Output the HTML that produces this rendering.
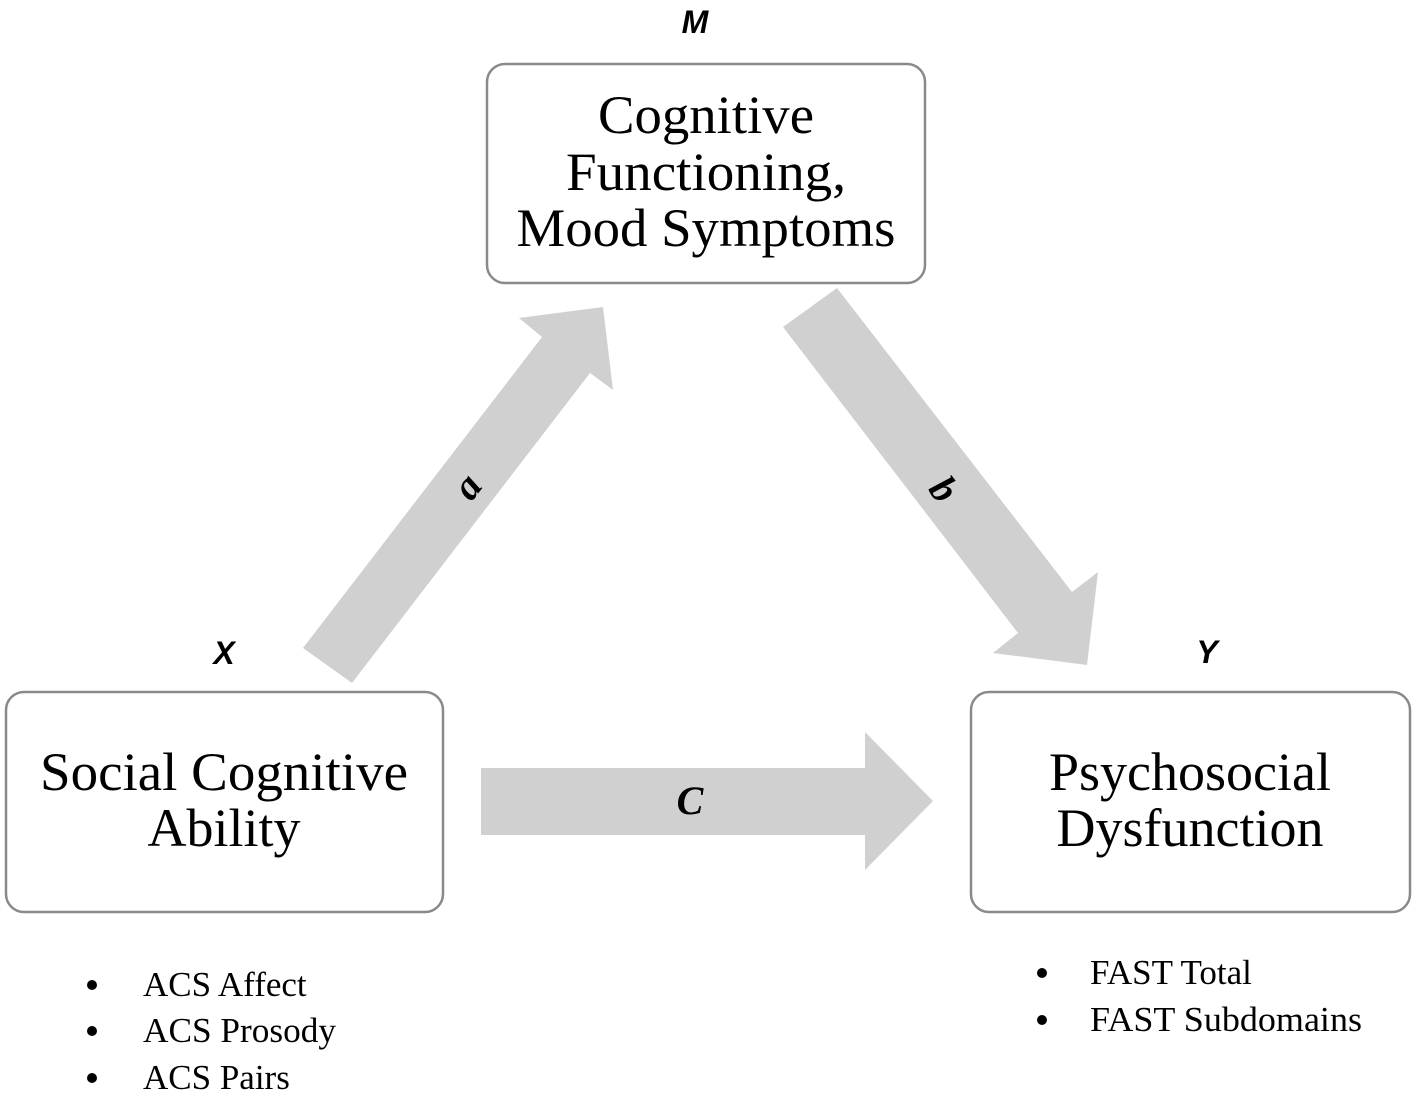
<!DOCTYPE html>
<html><head><meta charset="utf-8"><style>
html,body{margin:0;padding:0;background:#fff;}
body{width:1417px;height:1097px;position:relative;overflow:hidden;}
</style></head><body>
<svg width="1417" height="1097" viewBox="0 0 1417 1097" xmlns="http://www.w3.org/2000/svg">
<g fill="#d0d0d0">
<polygon points="303,648 542,337 519,318 603,307 613,390 590,373 352,683"/>
<polygon points="837,288 1072,592 1098,572 1087,665 993,653 1018,633 783,327"/>
<polygon points="481,768 865,768 865,732 933,801 865,870 865,835 481,835"/>
</g>
<g fill="#fff" stroke="#8a8a8a" stroke-width="2.5">
<rect x="487" y="64" width="438" height="219" rx="18"/>
<rect x="6" y="692" width="437" height="220" rx="18"/>
<rect x="971" y="692" width="439" height="220" rx="18"/>
</g>
<g font-family="Liberation Serif, serif" font-size="54" fill="#000" text-anchor="middle">
<text x="706" y="133" textLength="216" lengthAdjust="spacingAndGlyphs">Cognitive</text>
<text x="706" y="190" textLength="280" lengthAdjust="spacingAndGlyphs">Functioning,</text>
<text x="706" y="246" textLength="379" lengthAdjust="spacingAndGlyphs">Mood Symptoms</text>
<text x="224" y="790" textLength="368" lengthAdjust="spacingAndGlyphs">Social Cognitive</text>
<text x="224" y="846">Ability</text>
<text x="1190" y="790">Psychosocial</text>
<text x="1190" y="846">Dysfunction</text>
</g>
<g font-family="Liberation Sans, sans-serif" font-size="32" font-weight="bold" font-style="italic" fill="#000" text-anchor="middle">
<text x="695" y="33">M</text>
<text x="224" y="664">X</text>
<text x="1207" y="663">Y</text>
</g>
<g font-family="Liberation Serif, serif" font-weight="bold" font-style="italic" fill="#000" text-anchor="middle">
<text x="690" y="814" font-size="40">C</text>
<text x="0" y="0" font-size="40" transform="translate(468,487) rotate(-52)" dy="12">a</text>
<text x="0" y="0" font-size="40" transform="translate(943,490) rotate(52)" dy="12">b</text>
</g>
<g font-family="Liberation Serif, serif" font-size="35" fill="#000">
<circle cx="92" cy="985" r="5"/><text x="143" y="996">ACS Affect</text>
<circle cx="92" cy="1031" r="5"/><text x="143" y="1042" textLength="193" lengthAdjust="spacingAndGlyphs">ACS Prosody</text>
<circle cx="92" cy="1078" r="5"/><text x="143" y="1089">ACS Pairs</text>
<circle cx="1042" cy="973" r="5"/><text x="1090" y="984">FAST Total</text>
<circle cx="1042" cy="1020" r="5"/><text x="1090" y="1031" textLength="272" lengthAdjust="spacingAndGlyphs">FAST Subdomains</text>
</g>
</svg>
</body></html>
